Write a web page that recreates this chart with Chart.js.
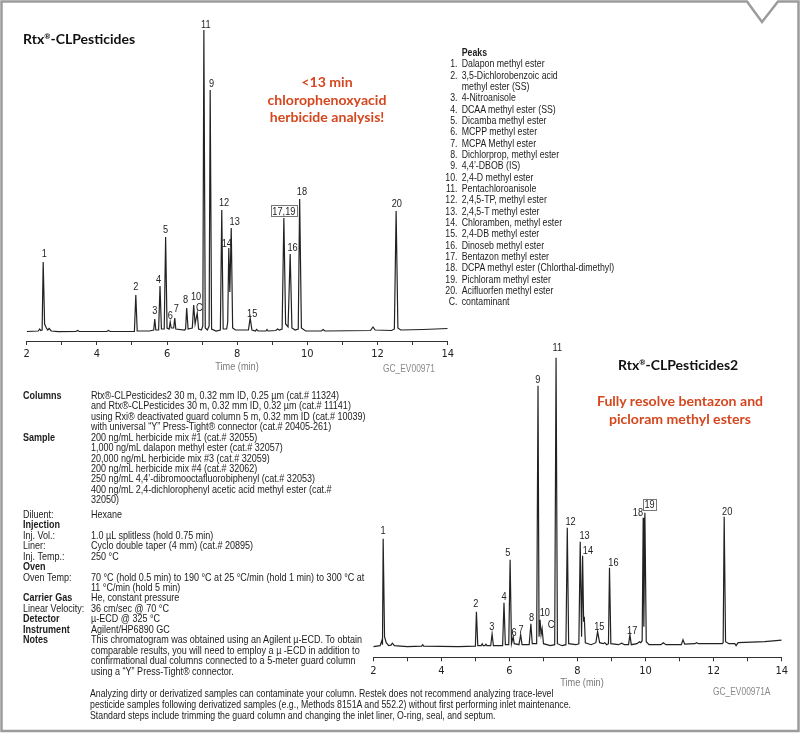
<!DOCTYPE html>
<html>
<head>
<meta charset="utf-8">
<script src="https://cdn.jsdelivr.net/npm/chart.js@4.4.1/dist/chart.umd.min.js"></script>
<style>
  body { margin: 0; background: #fff; }
  #page { position: relative; width: 800px; height: 739px; overflow: hidden; color: #1c1c1c;
          font-family: 'Liberation Sans', Arial, sans-serif; }
  .abs { position: absolute; white-space: nowrap; }
  .narrow { transform: scaleX(0.8); transform-origin: 0 0; }
  canvas { position: absolute; }
  .title { font-family: Lato, sans-serif; font-weight: 700; font-size: 14px; color: #111; line-height: 18px; }
  .title sup { font-size: 7.5px; vertical-align: 5px; line-height: 0; }
  .red { font-family: Lato, sans-serif; font-weight: 700; font-size: 14.1px; color: #d4471f; text-align: center; line-height: 17.5px; }
  .axisTitle { font-size: 11.5px; color: #7a7a7a; line-height: 12px; transform: scaleX(0.8); text-align: center; }
  .code { font-size: 10.5px; color: #8a8a8a; line-height: 12px; }
  #specs { left: 23px; top: 389.8px; font-size: 10.5px; line-height: 10.45px; transform: scaleX(0.86); transform-origin: 0 0; }
  #specs .row { display: flex; }
  #specs .lab { width: 79px; }
  #specs b { font-weight: 700; }
  #peaks { left: 440px; top: 47px; font-size: 10.5px; line-height: 11.33px; transform: scaleX(0.835); transform-origin: 0 0; }
  #peaks .num { display: inline-block; width: 21px; text-align: right; margin-right: 5px; }
  #note { left: 90px; top: 687.5px; font-size: 10.5px; line-height: 11px; transform: scaleX(0.835); transform-origin: 0 0; }
</style>
</head>
<body>
<div id="page">
  <svg class="abs" style="left:0;top:0" width="800" height="739">
    <path d="M1.5,731 L1.5,1.5 L747,1.5 L762,22 L778,1.5 L798.5,1.5 L798.5,731 Z" fill="none" stroke="#9c9c9c" stroke-width="2.5"/>
  </svg>

  <canvas id="chartTop" width="460" height="380" style="left:0;top:0"></canvas>
  <canvas id="chartBottom" width="460" height="365" style="left:340px;top:335px"></canvas>

  <div class="abs title" style="left:23px;top:30px">Rtx<sup>®</sup>-CLPesticides</div>
  <div class="abs red" style="left:227px;top:73px;width:200px">&lt;13 min<br>chlorophenoxyacid<br>herbicide analysis!</div>
  <div class="abs axisTitle" style="left:187px;top:360px;width:100px">Time (min)</div>
  <div class="abs code narrow" style="left:383px;top:362px">GC_EV00971</div>

  <div class="abs title" style="left:618px;top:356px">Rtx<sup>®</sup>-CLPesticides2</div>
  <div class="abs red" style="left:580px;top:392px;width:200px">Fully resolve bentazon and<br>picloram methyl esters</div>
  <div class="abs axisTitle" style="left:532px;top:676px;width:100px">Time (min)</div>
  <div class="abs code narrow" style="left:713px;top:685px">GC_EV00971A</div>

  <div class="abs" id="peaks"></div>
  <div class="abs" id="specs"></div>
  <div class="abs" id="note">Analyzing dirty or derivatized samples can contaminate your column. Restek does not recommend analyzing trace-level<br>pesticide samples following derivatized samples (e.g., Methods 8151A and 552.2) without first performing inlet maintenance.<br>Standard steps include trimming the guard column and changing the inlet liner, O-ring, seal, and septum.</div>
</div>

<script>
// --- data (signal in detector units above baseline) ---
const tickLabels = [2, 4, 6, 8, 10, 12, 14];

const topTrace = [
  [2.00, 0.5], [2.33, 1], [2.37, 3], [2.40, 1.5], [2.44, 2], [2.47, 70], [2.51, 8], [2.56, 4], [2.60, 2],
  [2.64, 3.5], [2.70, 1], [2.90, 0.3], [3.40, 0.5], [3.45, 1.5], [3.50, 0.5], [4.28, 0.5], [4.33, 1.5],
  [4.38, 0.5], [5.07, 0.5], [5.11, 37], [5.15, 1], [5.50, 1], [5.56, 1.5], [5.62, 2], [5.65, 13], [5.68, 2],
  [5.76, 2], [5.80, 46], [5.84, 3], [5.92, 3], [5.96, 95], [6.00, 4], [6.06, 3], [6.09, 10], [6.12, 4],
  [6.19, 4], [6.22, 14], [6.25, 3], [6.50, 2], [6.53, 3], [6.56, 24], [6.60, 3], [6.72, 4], [6.76, 27],
  [6.80, 8], [6.86, 19], [6.90, 3], [6.98, 2], [7.02, 6], [7.05, 302], [7.09, 4], [7.15, 2], [7.20, 6],
  [7.23, 242], [7.27, 3], [7.40, 1], [7.52, 2], [7.56, 122], [7.60, 3], [7.70, 3], [7.73, 10], [7.76, 84],
  [7.79, 40], [7.83, 104], [7.87, 4], [7.95, 2], [8.32, 2], [8.37, 14], [8.42, 2], [8.52, 1], [8.55, 2.5],
  [8.60, 1], [8.82, 1], [8.85, 2.5], [8.88, 1], [9.10, 1.5], [9.15, 3], [9.20, 2], [9.28, 3], [9.33, 114],
  [9.38, 8], [9.45, 5], [9.51, 78], [9.56, 4], [9.65, 2], [9.74, 3], [9.78, 133], [9.83, 4], [9.95, 1],
  [10.40, 1], [10.45, 2.5], [10.50, 1], [11.80, 1.5], [11.87, 5], [11.93, 2], [12.40, 1.5], [12.48, 3],
  [12.53, 121], [12.58, 4], [12.66, 2], [13.30, 2.5], [14.00, 3.5]
];
const topPeakLabels  = ['1', '2', '3', '4', '5', '6', '7', '8', '10', 'C', '11', '9', '12', '14', '13', '15', '17,19', '16', '18', '20'];
const topPeakTimes   = [2.47, 5.11, 5.65, 5.80, 5.96, 6.09, 6.22, 6.56, 6.76, 6.86, 7.05, 7.23, 7.56, 7.76, 7.83, 8.37, 9.33, 9.51, 9.78, 12.53];
const topPeakHeights = [70, 37, 13, 46, 95, 10, 14, 24, 27, 19, 302, 242, 122, 84, 104, 14, 114, 78, 133, 121];

const bottomTrace = [
  [2.00, 0], [2.20, 1], [2.25, 6], [2.27, 2], [2.29, 108], [2.33, 10], [2.38, 4], [2.45, 1], [2.52, 1.5],
  [2.56, 3.5], [2.62, 1], [3.00, 0], [3.42, 0.5], [3.45, 2], [3.48, 0.5], [4.50, 0], [5.00, 0.5], [5.03, 35],
  [5.07, 1], [5.17, 1], [5.20, 3], [5.23, 1], [5.28, 1], [5.31, 2.5], [5.34, 1], [5.45, 1], [5.49, 12.7],
  [5.53, 1], [5.80, 1], [5.84, 44], [5.88, 2], [5.98, 2], [6.02, 87], [6.06, 3], [6.11, 10], [6.14, 3],
  [6.28, 2], [6.33, 12], [6.37, 2], [6.58, 2], [6.63, 23], [6.67, 3], [6.80, 3], [6.84, 261], [6.87, 10],
  [6.90, 27], [6.93, 12], [6.96, 18], [7.00, 3], [7.20, 1], [7.33, 2], [7.37, 289], [7.41, 3], [7.55, 1],
  [7.66, 2], [7.70, 119], [7.74, 3], [7.95, 2], [8.04, 3], [8.08, 105], [8.12, 10], [8.15, 91], [8.18, 25],
  [8.20, 30], [8.23, 4], [8.40, 2], [8.54, 4], [8.59, 15], [8.65, 4], [8.75, 3], [8.80, 4], [8.86, 2],
  [8.91, 3], [8.94, 79], [8.98, 3], [9.20, 2], [9.30, 3.5], [9.38, 2], [9.50, 2], [9.54, 12], [9.58, 2],
  [9.75, 3], [9.82, 5], [9.86, 4], [9.90, 6], [9.93, 129], [9.95, 20], [9.98, 134], [10.02, 5], [10.10, 2],
  [10.45, 2], [10.52, 4], [10.60, 2], [11.05, 2], [11.10, 7], [11.15, 2.5], [11.45, 3], [11.50, 4],
  [11.55, 3], [12.25, 3], [12.28, 4], [12.31, 130], [12.35, 5], [12.45, 3], [12.62, 3], [12.66, 1],
  [12.72, 4], [13.50, 5], [14.00, 6.5]
];
const bottomPeakLabels  = ['1', '2', '3', '4', '5', '6', '7', '8', '9', '10', 'C', '11', '12', '13', '14', '15', '16', '17', '18', '19', '20'];
const bottomPeakTimes   = [2.29, 5.03, 5.49, 5.84, 6.02, 6.11, 6.33, 6.63, 6.84, 6.90, 6.96, 7.37, 7.70, 8.08, 8.15, 8.59, 8.94, 9.54, 9.93, 9.98, 12.31];
const bottomPeakHeights = [108, 35, 12.7, 44, 87, 10, 12, 23, 261, 27, 18, 289, 119, 105, 91, 15, 79, 12, 129, 134, 130];

const peakNames = [
  ['1.', 'Dalapon methyl ester'],
  ['2.', '3,5-Dichlorobenzoic acid'],
  ['', 'methyl ester (SS)'],
  ['3.', '4-Nitroanisole'],
  ['4.', 'DCAA methyl ester (SS)'],
  ['5.', 'Dicamba methyl ester'],
  ['6.', 'MCPP methyl ester'],
  ['7.', 'MCPA Methyl ester'],
  ['8.', 'Dichlorprop, methyl ester'],
  ['9.', '4,4\u2019-DBOB (IS)'],
  ['10.', '2,4-D methyl ester'],
  ['11.', 'Pentachloroanisole'],
  ['12.', '2,4,5-TP, methyl ester'],
  ['13.', '2,4,5-T methyl ester'],
  ['14.', 'Chloramben, methyl ester'],
  ['15.', '2,4-DB methyl ester'],
  ['16.', 'Dinoseb methyl ester'],
  ['17.', 'Bentazon methyl ester'],
  ['18.', 'DCPA methyl ester (Chlorthal-dimethyl)'],
  ['19.', 'Pichloram methyl ester'],
  ['20.', 'Acifluorfen methyl ester'],
  ['C.', 'contaminant']
];

const specRows = [
  ['Columns', 'Rtx®-CLPesticides2 30 m, 0.32 mm ID, 0.25 µm (cat.# 11324)', true],
  ['', 'and Rtx®-CLPesticides 30 m, 0.32 mm ID, 0.32 µm (cat.# 11141)'],
  ['', 'using Rxi® deactivated guard column 5 m, 0.32 mm ID (cat.# 10039)'],
  ['', 'with universal \u201cY\u201d Press-Tight® connector (cat.# 20405-261)'],
  ['Sample', '200 ng/mL herbicide mix #1 (cat.# 32055)', true],
  ['', '1,000 ng/mL dalapon methyl ester (cat.# 32057)'],
  ['', '20,000 ng/mL herbicide mix #3 (cat.# 32059)'],
  ['', '200 ng/mL herbicide mix #4 (cat.# 32062)'],
  ['', '250 ng/mL 4,4\u2019-dibromooctafluorobiphenyl (cat.# 32053)'],
  ['', '400 ng/mL 2,4-dichlorophenyl acetic acid methyl ester (cat.#'],
  ['', '32050)'],
  ['Diluent:', 'Hexane'],
  ['Injection', '', true],
  ['Inj. Vol.:', '1.0 µL splitless (hold 0.75 min)'],
  ['Liner:', 'Cyclo double taper (4 mm) (cat.# 20895)'],
  ['Inj. Temp.:', '250 °C'],
  ['Oven', '', true],
  ['Oven Temp:', '70 °C (hold 0.5 min) to 190 °C at 25 °C/min (hold 1 min) to 300 °C at'],
  ['', '11 °C/min (hold 5 min)'],
  ['Carrier Gas', 'He, constant pressure', true],
  ['Linear Velocity:', '36 cm/sec @ 70 °C'],
  ['Detector', 'µ-ECD @ 325 °C', true],
  ['Instrument', 'Agilent/HP6890 GC', true],
  ['Notes', 'This chromatogram was obtained using an Agilent  µ-ECD. To obtain', true],
  ['', 'comparable results, you will need to employ a µ -ECD in addition to'],
  ['', 'confirmational dual columns connected to a 5-meter guard column'],
  ['', 'using a \u201cY\u201d Press-Tight® connector.']
];

// --- label placement (pixels relative to the peak apex) ---
const topNudge = {
  '1': [1, -9], '2': [0, -9], '3': [0, -9], '4': [-1.5, -7], '5': [0, -8], '6': [0, -7], '7': [1.5, -10],
  '8': [-1, -9], '10': [2.3, -9], 'C': [2, -6], '11': [2, -6], '9': [1.4, -7], '12': [2.3, -8],
  '14': [-2, -5], '13': [3.4, -7], '15': [2, -5], '17,19': [0, -7], '16': [2.4, -7], '18': [2.3, -8], '20': [0.7, -8]
};
const bottomNudge = {
  '1': [0, -8], '2': [-0.6, -8], '3': [-0.3, -8], '4': [0, -6.4], '5': [-2.3, -7.3], '6': [1, -4.3],
  '7': [0.4, -5.7], '8': [0.6, -6.7], '9': [-0.3, -6.3], '10': [4.7, -7], 'C': [9, -4], '11': [1.3, -10],
  '12': [3.3, -6.3], '13': [4.3, -6.3], '14': [5.3, -5.3], '15': [1.7, -5], '16': [4, -5.3], '17': [2.3, -4.3],
  '18': [-5.3, -5], '19': [4.7, -8], '20': [3, -5.3]
};
const boxedLabels = ['17,19', '19'];

const FONT = "'Liberation Sans', Arial, sans-serif";
const TICK_FONT = "'DejaVu Sans Condensed', 'Liberation Sans', sans-serif";
const SQUEEZE = 0.8;

function fillText() {
  const peaks = document.getElementById('peaks');
  peaks.innerHTML = '<div><span class="num"></span><b>Peaks</b></div>' +
    peakNames.map(p => `<div><span class="num">${p[0]}</span>${p[1]}</div>`).join('');

  const specs = document.getElementById('specs');
  specs.innerHTML = specRows.map(r => {
    const extra = r[0] === 'Diluent:' ? ' style="margin-top:4px"' : '';
    const lab = r[2] ? `<b>${r[0]}</b>` : r[0];
    return `<div class="row"${extra}><span class="lab">${lab}</span><span>${r[1]}</span></div>`;
  }).join('');
}

function makeLabelPlugin(labels, times, heights, nudge) {
  return {
    id: 'peakLabels',
    afterDatasetsDraw(chart) {
      const { ctx, scales } = chart;
      labels.forEach((lab, i) => {
        const n = nudge[lab] || [0, -8];
        const x = scales.x.getPixelForValue(times[i]) + n[0];
        const y = scales.y.getPixelForValue(heights[i]) + n[1];
        ctx.save();
        ctx.font = `11.5px ${FONT}`;
        ctx.fillStyle = '#222';
        ctx.textAlign = 'center';
        ctx.textBaseline = 'middle';
        const w = ctx.measureText(lab).width * SQUEEZE;
        if (boxedLabels.includes(lab)) {
          ctx.strokeStyle = '#777';
          ctx.lineWidth = 1;
          ctx.strokeRect(Math.round(x - w / 2 - 1.5) + 0.5, Math.round(y - 6) + 0.5, Math.round(w + 3), 11);
        }
        ctx.translate(x, y);
        ctx.scale(SQUEEZE, 1);
        ctx.fillText(lab, 0, 0.5);
        ctx.restore();
      });
    }
  };
}

function buildChart(id, trace, labels, times, heights, nudge, geo) {
  return new Chart(document.getElementById(id), {
    type: 'line',
    data: {
      datasets: [{
        data: trace.map(p => ({ x: p[0], y: p[1] })),
        borderColor: '#222',
        borderWidth: 1.2,
        pointRadius: 0,
        tension: 0,
        fill: false
      }]
    },
    options: {
      responsive: false,
      animation: false,
      events: [],
      layout: { padding: geo.padding },
      plugins: { legend: { display: false }, tooltip: { enabled: false } },
      scales: {
        x: {
          type: 'linear',
          min: 2,
          max: 14,
          afterFit: s => { s.height = 30; },
          border: { display: true, color: '#333', width: 1 },
          grid: { display: true, drawOnChartArea: false, drawTicks: true, tickLength: 4, color: '#333' },
          ticks: {
            stepSize: 1, padding: 3, color: '#222', maxRotation: 0, autoSkip: false,
            font: { family: TICK_FONT, size: 11 },
            callback: v => tickLabels.includes(v) ? String(v) : ''
          }
        },
        y: { display: false, min: geo.yMin, max: geo.yMax }
      }
    },
    plugins: [makeLabelPlugin(labels, times, heights, nudge)]
  });
}

document.addEventListener('DOMContentLoaded', () => {
  fillText();
  buildChart('chartTop', topTrace, topPeakLabels, topPeakTimes, topPeakHeights, topNudge, {
    padding: { left: 26.7, right: 12.3, top: 20, bottom: 9 }, yMin: -9, yMax: 312
  });
  buildChart('chartBottom', bottomTrace, bottomPeakLabels, bottomPeakTimes, bottomPeakHeights, bottomNudge, {
    padding: { left: 33.3, right: 18.3, top: 15, bottom: 12.7 }, yMin: -10.6, yMax: 296.7
  });
});
</script>
</body>
</html>
